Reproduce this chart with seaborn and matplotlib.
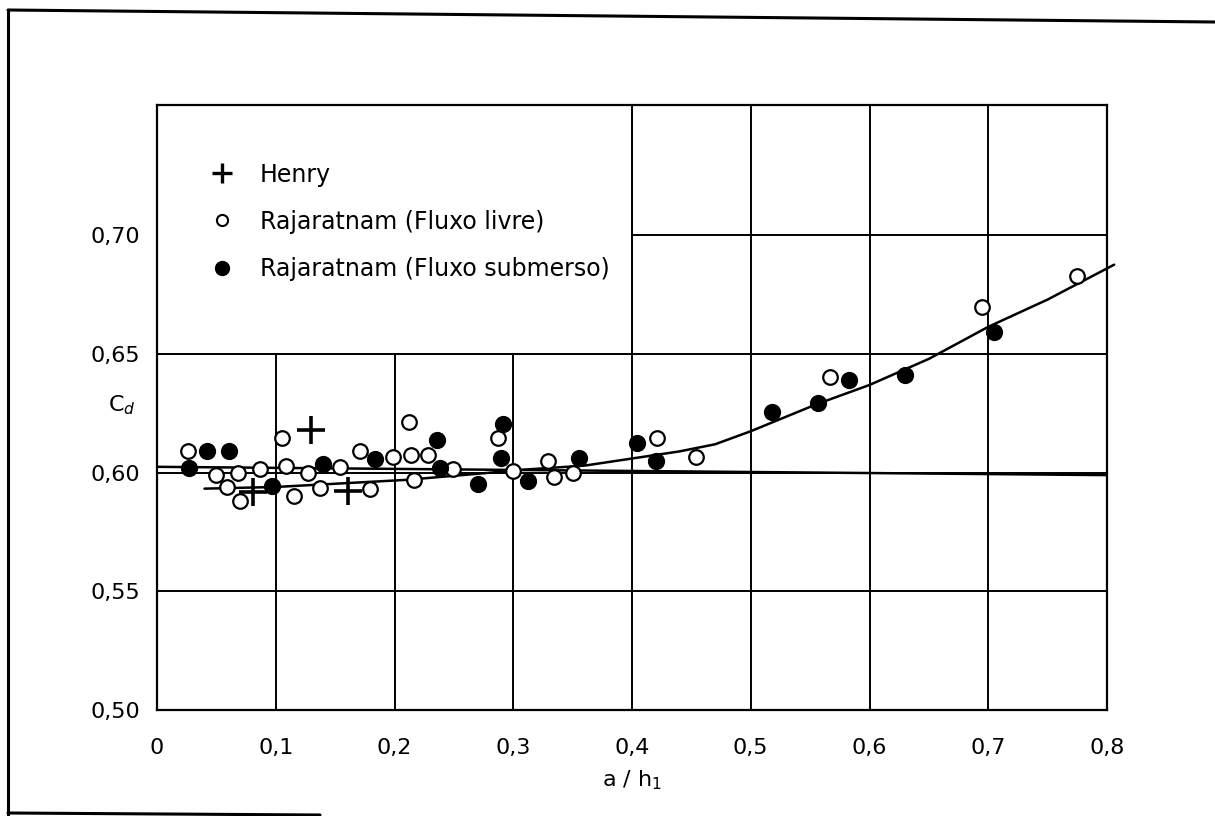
"""
Cd x a/h1 - comporta plana (Henry / Rajaratnam)
"""

import matplotlib.pyplot as plt
import seaborn as sns
from matplotlib.lines import Line2D
from matplotlib.patches import Rectangle

sns.set_theme(style="white")
plt.rcParams["font.family"] = ["DejaVu Sans"]
plt.rcParams["text.color"] = "black"
plt.rcParams["axes.labelcolor"] = "black"
plt.rcParams["xtick.color"] = "black"
plt.rcParams["ytick.color"] = "black"

# -------------------------------------------------
# Dados
# -------------------------------------------------

henry_x = [0.081, 0.130, 0.161]
henry_y = [0.5917, 0.618, 0.5924]

livre_x = [0.026, 0.050, 0.059, 0.068, 0.070, 0.087, 0.105, 0.109, 0.115, 0.127,
           0.137, 0.154, 0.171, 0.179, 0.199, 0.212, 0.214, 0.216, 0.2285, 0.249,
           0.287, 0.300, 0.329, 0.334, 0.350, 0.421, 0.454, 0.567, 0.695, 0.775]
livre_y = [0.609, 0.599, 0.594, 0.600, 0.588, 0.6015, 0.6146, 0.603, 0.590, 0.600,
           0.5935, 0.6026, 0.609, 0.593, 0.6067, 0.6215, 0.6076, 0.597, 0.6076, 0.6015,
           0.6146, 0.6008, 0.605, 0.598, 0.5997, 0.6146, 0.6067, 0.6405, 0.6697, 0.683]

sub_x = [0.027, 0.042, 0.061, 0.0966, 0.1395, 0.1836, 0.236, 0.238, 0.2706, 0.2916,
         0.290, 0.3127, 0.3557, 0.404, 0.420, 0.5176, 0.5563, 0.583, 0.630, 0.7048]
sub_y = [0.602, 0.609, 0.609, 0.5945, 0.6036, 0.6057, 0.6137, 0.6022, 0.5952, 0.6205,
         0.6064, 0.5966, 0.6062, 0.6127, 0.605, 0.6258, 0.6295, 0.639, 0.6412, 0.6594]

curva_x = [0.04, 0.10, 0.21, 0.28, 0.30, 0.36, 0.40, 0.44, 0.47, 0.50, 0.555,
           0.60, 0.65, 0.70, 0.75, 0.806]
curva_y = [0.5933, 0.594, 0.597, 0.600, 0.601, 0.603, 0.606, 0.609, 0.612, 0.6175, 0.6288,
           0.637, 0.648, 0.6615, 0.673, 0.6877]

reta_x = [0.0, 0.8]
reta_y = [0.6025, 0.599]

x_ticks = [0, 0.1, 0.2, 0.3, 0.4, 0.5, 0.6, 0.7, 0.8]
x_labels = ["0", "0,1", "0,2", "0,3", "0,4", "0,5", "0,6", "0,7", "0,8"]
y_ticks = [0.50, 0.55, 0.60, 0.65, 0.70]
y_labels = ["0,50", "0,55", "0,60", "0,65", "0,70"]

# -------------------------------------------------
# Figura
# -------------------------------------------------

W, H = 1215, 816
fig = plt.figure(figsize=(W / 100, H / 100), dpi=100)
ax = fig.add_axes([157 / W, 1 - 710 / H, (1107 - 157) / W, (710 - 105) / H])

ax.set_xlim(0, 0.8)
ax.set_ylim(0.50, 0.755)

# grade
ax.set_axisbelow(True)
ax.set_xticks(x_ticks)
ax.set_xticklabels(x_labels, fontsize=16)
ax.set_yticks(y_ticks)
ax.set_yticklabels(y_labels, fontsize=16)
ax.tick_params(axis="y", length=0, pad=12)
ax.tick_params(axis="x", length=0, pad=20)
ax.grid(True, color="black", linewidth=1.4)
for s in ax.spines.values():
    s.set_color("black")
    s.set_linewidth(1.6)

# caixa da legenda (esconde a grade)
ax.add_patch(Rectangle((0, 0.65), 0.4, 0.755 - 0.65, facecolor="white",
                       edgecolor="black", linewidth=1.4, zorder=1))

# curvas
sns.lineplot(x=reta_x, y=reta_y, color="black", linewidth=1.8, ax=ax, zorder=3)
sns.lineplot(x=curva_x, y=curva_y, color="black", linewidth=1.8, ax=ax, zorder=3,
             sort=False, clip_on=False)

# pontos
sns.scatterplot(x=livre_x, y=livre_y, marker="o", s=110, facecolor="white",
                edgecolor="black", linewidth=1.6, ax=ax, zorder=4)
sns.scatterplot(x=sub_x, y=sub_y, marker="o", s=130, color="black",
                edgecolor="black", linewidth=1, ax=ax, zorder=4)
sns.scatterplot(x=henry_x, y=henry_y, marker="+", s=420, color="black",
                linewidth=2.6, ax=ax, zorder=5)

# legenda
handles = [
    Line2D([], [], marker="+", color="black", linestyle="none", markersize=15, markeredgewidth=2.4),
    Line2D([], [], marker="o", markerfacecolor="white", markeredgecolor="black",
           linestyle="none", markersize=8, markeredgewidth=1.5),
    Line2D([], [], marker="o", color="black", linestyle="none", markersize=10),
]
labels = ["Henry", "Rajaratnam (Fluxo livre)", "Rajaratnam (Fluxo submerso)"]
leg = ax.legend(handles, labels, loc="upper left", bbox_to_anchor=(0.031, 0.94),
                frameon=False, fontsize=17, handletextpad=1.0, labelspacing=0.98,
                handlelength=1.2)
leg.set_zorder(6)

ax.set_xlabel("a / h$_1$", fontsize=16, labelpad=8)
ax.set_ylabel("C$_d$", fontsize=16, rotation=0)
ax.yaxis.set_label_coords(-0.037, 0.485)

# moldura externa
def px(x, y):
    return x / W, 1 - y / H

for (x0, y0), (x1, y1) in [((8, 10), (8, 816)), ((8, 10), (1215, 22)), ((8, 813), (320, 815))]:
    a, b = px(x0, y0)
    c, d = px(x1, y1)
    fig.add_artist(Line2D([a, c], [b, d], color="black", linewidth=2.2))

plt.savefig("out.png", dpi=100)
plt.close()
